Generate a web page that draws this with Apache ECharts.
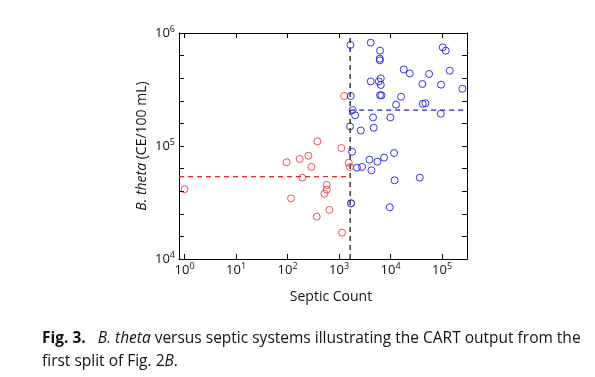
<!DOCTYPE html>
<html>
<head>
    <meta charset="utf-8">
    <title>Fig. 3</title>
    <script src="https://cdn.jsdelivr.net/npm/echarts@6/dist/echarts.min.js"></script>
    <style>
        html, body { margin: 0; padding: 0; background: #fff; }
    </style>
</head>
<body>
<div id="chart" style="width:595px;height:377px;"></div>
<script type="text/javascript">
    // 读图估计的数据 (septic count, B. theta)
    var redX = [1, 96, 172, 254, 290, 380, 194, 117, 577, 577, 520, 368, 649, 1143, 1109, 1541, 1634, 1250, 1710];
    var redY = [41400, 71700, 76800, 82000, 65200, 110000, 52500, 34400, 45200, 41100, 37800, 23700, 27200, 17100, 95900, 71100, 65200, 277000, 31100];

    var blueX = [1660, 4120, 6250, 6160, 6200, 103000, 118000, 18000, 23600, 56000, 141000, 4120, 5900, 6460, 6460,
        41500, 95700, 248000, 1690, 6250, 6640, 16000, 12800, 42100, 47500, 94300, 1840, 2050, 4570, 9930,
        1634, 4710, 2640, 1790, 11700, 7480, 3880, 5550, 4250, 2230, 2800, 12000, 36900, 9640, 1710];
    var blueY = [783000, 821000, 698000, 593000, 573000, 746000, 698000, 476000, 439000, 434000, 464000, 373000, 373000, 397000, 347000,
        354000, 349000, 321000, 277000, 281000, 281000, 273000, 232000, 236000, 239000, 193000, 208000, 187000, 179000, 179000,
        149000, 145000, 137000, 89100, 86700, 78900, 75700, 72600, 60900, 64300, 65200, 49700, 52500, 28700, 31100];

    // CART 第一次分割
    var splitX = 1640;
    var leftMeanY = 53500;
    var rightMeanY = 208000;

    var xMin = 0.78, xMax = 305000;
    var yMin = 10000, yMax = 1000000;

    function pairs(xs, ys) {
        return xs.map(function (x, i) { return [x, ys[i]]; });
    }

    function powLabel(value) {
        var e = Math.log10(value);
        var r = Math.round(e);
        if (Math.abs(e - r) > 0.01) return '';
        return '{b|10}{s|' + r + '}';
    }

    var labelRich = {
        b: { fontSize: 13, fontFamily: 'Open Sans', color: '#111', lineHeight: 17 },
        s: { fontSize: 9, fontFamily: 'Open Sans', color: '#111', lineHeight: 17, verticalAlign: 'top', padding: [0, 0, 7, 0] }
    };

    var axisLine = { show: true, onZero: false, lineStyle: { color: '#000', width: 1 } };
    var axisTick = { show: true, inside: true, length: 5, lineStyle: { color: '#000', width: 1 } };

    var myChart = echarts.init(document.getElementById('chart'));
    myChart.setOption({
        animation: false,
        grid: { left: 179, right: 128, top: 33, bottom: 118 },
        xAxis: [
            {
                type: 'log', logBase: 10, min: xMin, max: xMax, position: 'bottom',
                axisLine: axisLine, axisTick: axisTick, splitLine: { show: false },
                axisLabel: { formatter: powLabel, rich: labelRich, margin: 3 },
                name: 'Septic Count', nameLocation: 'middle', nameGap: 31,
                nameTextStyle: { fontSize: 14, fontFamily: 'Open Sans', color: '#111', padding: [0, 0, 0, 16] }
            },
            {
                type: 'log', logBase: 10, min: xMin, max: xMax, position: 'top',
                axisLine: axisLine, axisTick: axisTick, splitLine: { show: false },
                axisLabel: { show: false }
            }
        ],
        yAxis: [
            {
                type: 'log', logBase: 10, min: yMin, max: yMax, interval: 0.2, position: 'left',
                axisLine: axisLine, axisTick: axisTick, splitLine: { show: false },
                axisLabel: { formatter: powLabel, rich: labelRich, margin: 4 },
                name: '{i|B. theta} (CE/100 mL)', nameLocation: 'middle', nameGap: 30, nameRotate: 90,
                nameTextStyle: {
                    fontSize: 14, fontFamily: 'Open Sans', color: '#111',
                    rich: { i: { fontSize: 14, fontFamily: 'Open Sans', fontStyle: 'italic', color: '#111' } }
                }
            },
            {
                type: 'log', logBase: 10, min: yMin, max: yMax, interval: 0.2, position: 'right',
                axisLine: axisLine, axisTick: axisTick, splitLine: { show: false },
                axisLabel: { show: false }
            }
        ],
        series: [
            {
                type: 'line', data: [[splitX, yMin], [splitX, yMax]], symbol: 'none',
                lineStyle: { color: '#000', width: 1.2, type: [5, 4] }, z: 1
            },
            {
                type: 'line', data: [[xMin, leftMeanY], [splitX, leftMeanY]], symbol: 'none',
                lineStyle: { color: '#e8262a', width: 1.2, type: [5, 4] }, z: 1
            },
            {
                type: 'line', data: [[splitX, rightMeanY], [xMax, rightMeanY]], symbol: 'none',
                lineStyle: { color: '#1f1fd6', width: 1.2, type: [5, 4] }, z: 1
            },
            {
                type: 'scatter', data: pairs(redX, redY), symbol: 'circle', symbolSize: 7,
                itemStyle: { color: 'rgba(0,0,0,0)', borderColor: '#e8262a', borderWidth: 1 }, z: 3
            },
            {
                type: 'scatter', data: pairs(blueX, blueY), symbol: 'circle', symbolSize: 7,
                itemStyle: { color: 'rgba(0,0,0,0)', borderColor: '#1f1fd6', borderWidth: 1, opacity: 0.9 }, z: 3
            }
        ],
        graphic: [
            {
                type: 'text', left: 42, top: 327,
                style: {
                    text: '{bd|Fig. 3.}   {it|B. theta} versus septic systems illustrating the CART output from the\nfirst split of Fig. 2{it|B}.',
                    fontSize: 15.5, fontFamily: 'Open Sans', fill: '#111', lineHeight: 23,
                    rich: {
                        bd: { fontSize: 15.5, fontFamily: 'Open Sans', fontWeight: 'bold', fill: '#111' },
                        it: { fontSize: 15.5, fontFamily: 'Open Sans', fontStyle: 'italic', fill: '#111' }
                    }
                }
            }
        ]
    });
</script>
</body>
</html>
